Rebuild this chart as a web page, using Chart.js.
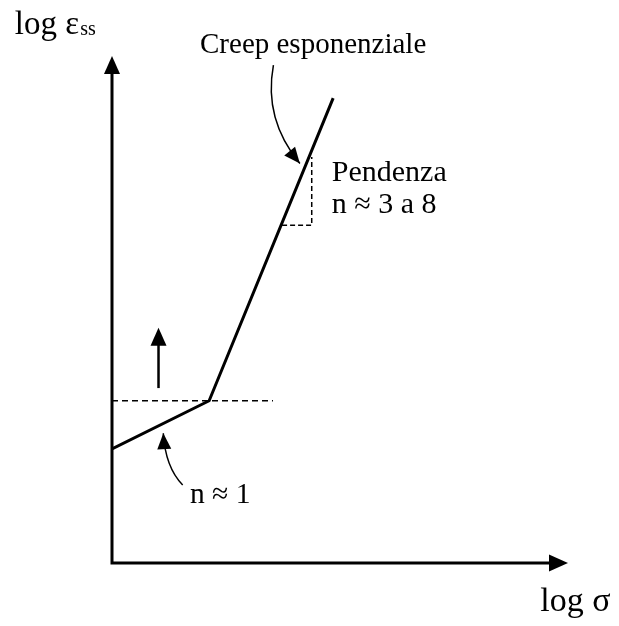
<!DOCTYPE html>
<html>
<head>
<meta charset="utf-8">
<script src="https://cdn.jsdelivr.net/npm/chart.js@4.4.1/dist/chart.umd.min.js"></script>
<style>
  html, body { margin: 0; padding: 0; background: #fff; }
  #wrap { width: 619px; height: 626px; }
</style>
</head>
<body>
<div id="wrap"><canvas id="creep-chart" width="619" height="626"></canvas></div>
<script>
/*===============
data (log stress / log strain rate, arbitrary units)
====================*/
const curveStress = [0, 2.13, 4.85];
const curveRate = [2.25, 3.2, 9.17];

// horizontal reference through the knee
const kneeStress = [0, 3.53];
const kneeRate = [3.2, 3.2];

// slope triangle on the power-law branch
const slopeStress = [3.73, 4.38, 4.38];
const slopeRate = [6.66, 6.66, 8.01];

// straight arrow above the knee line
const liftStress = [1.02, 1.02];
const liftRate = [3.45, 4.64];

// curved pointers: tail, control, tip
const creepPointer = [[3.54, 9.82], [3.32, 8.75], [4.12, 7.88]];
const linearPointer = [[1.55, 1.54], [1.17, 1.89], [1.125, 2.56]];

const labels = [
    { text: 'Creep esponenziale', x: 1.93, y: 10.06, size: 29 },
    { text: 'Pendenza', x: 4.82, y: 7.53, size: 30 },
    { text: 'n \u2248 3 a 8', x: 4.82, y: 6.90, size: 30 },
    { text: 'n \u2248 1', x: 1.71, y: 1.18, size: 29.5 },
    { text: 'log \u03c3', x: 9.39, y: -0.95, size: 34 }
];

const toPoints = (xs, ys) => xs.map((v, i) => ({ x: v, y: ys[i] }));

function arrowHead(ctx, fx, fy, tx, ty, len, half) {
    const ang = Math.atan2(ty - fy, tx - fx);
    ctx.beginPath();
    ctx.moveTo(tx, ty);
    ctx.lineTo(tx - len * Math.cos(ang) + half * Math.sin(ang), ty - len * Math.sin(ang) - half * Math.cos(ang));
    ctx.lineTo(tx - len * Math.cos(ang) - half * Math.sin(ang), ty - len * Math.sin(ang) + half * Math.cos(ang));
    ctx.closePath();
    ctx.fill();
}

/*===============
axes, arrows and text
====================*/
const diagramPlugin = {
    id: 'diagram',
    afterDatasetsDraw(chart) {
        const { ctx, chartArea: a, scales: { x, y } } = chart;
        ctx.save();
        ctx.strokeStyle = '#000';
        ctx.fillStyle = '#000';

        // axes with arrow tips
        ctx.lineWidth = 3;
        ctx.lineJoin = 'miter';
        ctx.beginPath();
        ctx.moveTo(a.left, a.top + 12);
        ctx.lineTo(a.left, a.bottom);
        ctx.lineTo(a.right - 12, a.bottom);
        ctx.stroke();
        arrowHead(ctx, a.left, a.bottom, a.left, a.top, 18, 8);
        arrowHead(ctx, a.left, a.bottom, a.right, a.bottom, 19, 8.5);

        // straight arrow
        const lx = x.getPixelForValue(liftStress[0]);
        const ly0 = y.getPixelForValue(liftRate[0]);
        const ly1 = y.getPixelForValue(liftRate[1]);
        ctx.lineWidth = 2.5;
        ctx.beginPath();
        ctx.moveTo(lx, ly0);
        ctx.lineTo(lx, ly1 + 10);
        ctx.stroke();
        arrowHead(ctx, lx, ly0, lx, ly1, 18, 8);

        // curved pointers
        ctx.lineWidth = 1.5;
        [creepPointer, linearPointer].forEach(p => {
            const [t, c, h] = p.map(q => [x.getPixelForValue(q[0]), y.getPixelForValue(q[1])]);
            ctx.beginPath();
            ctx.moveTo(t[0], t[1]);
            ctx.quadraticCurveTo(c[0], c[1], h[0], h[1]);
            ctx.stroke();
            arrowHead(ctx, c[0], c[1], h[0], h[1], 16, 7);
        });

        // text
        ctx.textAlign = 'left';
        ctx.textBaseline = 'alphabetic';
        labels.forEach(l => {
            ctx.font = l.size + 'px "Liberation Serif"';
            ctx.fillText(l.text, x.getPixelForValue(l.x), y.getPixelForValue(l.y));
        });

        // y axis title with subscript
        const tx = x.getPixelForValue(-2.13);
        const ty = y.getPixelForValue(10.43);
        ctx.font = '33px "Liberation Serif"';
        ctx.fillText('log \u03b5', tx, ty);
        const w = ctx.measureText('log \u03b5').width;
        ctx.font = '20px "Liberation Serif"';
        ctx.fillText('ss', tx + w + 1, ty + 1);

        ctx.restore();
    }
};

const creepChart = document.getElementById('creep-chart');
if (creepChart) {
    new Chart(creepChart, {
        type: 'scatter',
        data: {
            datasets: [
                {
                    label: 'Creep',
                    data: toPoints(curveStress, curveRate),
                    showLine: true,
                    borderColor: '#000',
                    borderWidth: 3,
                    pointRadius: 0,
                    tension: 0
                },
                {
                    label: 'Knee',
                    data: toPoints(kneeStress, kneeRate),
                    showLine: true,
                    borderColor: '#000',
                    borderWidth: 1.5,
                    borderDash: [6, 4],
                    pointRadius: 0
                },
                {
                    label: 'Slope',
                    data: toPoints(slopeStress, slopeRate),
                    showLine: true,
                    borderColor: '#000',
                    borderWidth: 1.5,
                    borderDash: [5, 3],
                    pointRadius: 0
                }
            ]
        },
        options: {
            responsive: false,
            animation: false,
            layout: {
                padding: { left: 112, right: 51, top: 56, bottom: 63 }
            },
            plugins: {
                legend: { display: false },
                tooltip: { enabled: false }
            },
            scales: {
                x: { type: 'linear', min: 0, max: 10, display: false },
                y: { type: 'linear', min: 0, max: 10, display: false }
            }
        },
        plugins: [diagramPlugin]
    });
}
</script>
</body>
</html>
